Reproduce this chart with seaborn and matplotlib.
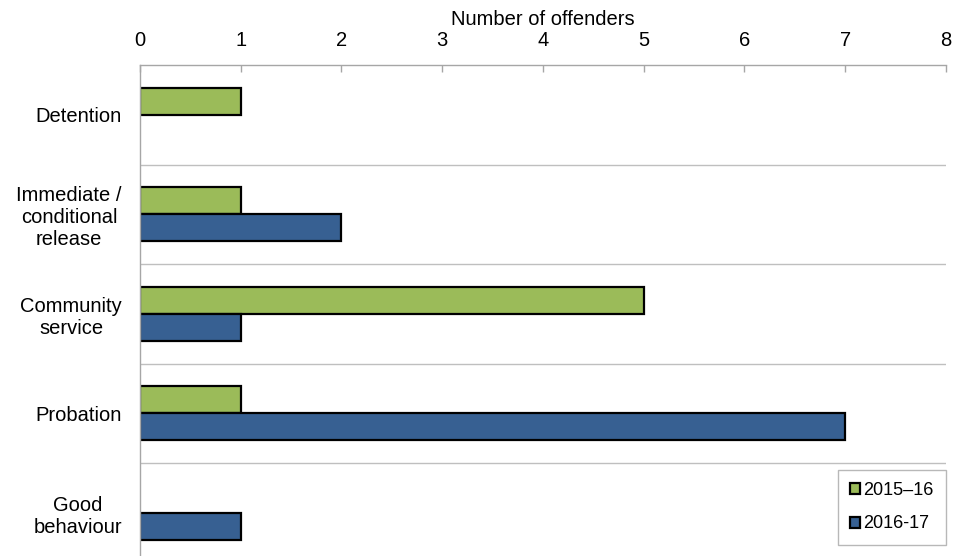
import pandas as pd
import seaborn as sns
import matplotlib.pyplot as plt
from matplotlib.patches import Patch

# data
categories = ["Detention", "Immediate /\nconditional\nrelease", "Community\nservice",
              "Probation", "Good\nbehaviour"]
years = ["2015\u201316", "2016-17"]
offenders_1516 = [1, 1, 5, 1, 0]
offenders_1617 = [0, 2, 1, 7, 1]
colors = ["#9BBB59", "#376092"]

df = pd.DataFrame({
    "Sentence": categories * 2,
    "Year": [years[0]] * 5 + [years[1]] * 5,
    "Offenders": offenders_1516 + offenders_1617,
})

sns.set_style("white")
plt.rcParams["font.family"] = ["Liberation Sans", "DejaVu Sans"]
plt.rcParams["text.color"] = "black"
plt.rcParams["xtick.labelcolor"] = "black"
plt.rcParams["ytick.labelcolor"] = "black"
plt.rcParams["axes.labelcolor"] = "black"

fig = plt.figure(figsize=(9.56, 5.56), dpi=100)
ax = fig.add_axes([0.1464, -0.0117, 0.843, 0.8947])

sns.barplot(data=df, y="Sentence", x="Offenders", hue="Year", hue_order=years,
            order=categories, palette=colors, saturation=1, orient="h", width=0.54,
            edgecolor="black", linewidth=1.6, ax=ax, legend=False)

# hide zero-length bars
for p in ax.patches:
    if p.get_width() == 0:
        p.set_visible(False)

ax.set_xlim(0, 8)
ax.set_xticks(range(0, 9))
ax.xaxis.tick_top()
ax.xaxis.set_label_position("top")
ax.set_xlabel("Number of offenders", fontsize=14.5, labelpad=4, color="black")
ax.set_ylabel("")
ax.tick_params(axis="x", direction="in", length=5, color="#A6A6A6", width=1,
               pad=11, labelsize=14.5, labelcolor="black")
ax.tick_params(axis="y", length=0, pad=13, labelsize=14.5, labelcolor="black")
for lbl in ax.get_yticklabels():
    lbl.set_multialignment("center")

for s in ["right", "bottom"]:
    ax.spines[s].set_visible(False)
for s in ["top", "left"]:
    ax.spines[s].set_color("#A6A6A6")
    ax.spines[s].set_linewidth(1)

# separators between categories
for i in range(len(categories) - 1):
    ax.axhline(i + 0.5, color="#BFBFBF", linewidth=1)

handles = [Patch(facecolor=c, edgecolor="black", linewidth=1.6) for c in colors]
leg = ax.legend(handles, years, loc="lower right", bbox_to_anchor=(1.0, 0.035),
                borderaxespad=0, fontsize=13, handlelength=0.55, handleheight=0.55,
                handletextpad=0.15, labelspacing=0.9, borderpad=0.7,
                fancybox=False, frameon=True)
leg.get_frame().set_edgecolor("#A6A6A6")
leg.get_frame().set_linewidth(1)
for t in leg.get_texts():
    t.set_color("black")

plt.savefig("out.png", dpi=100)
